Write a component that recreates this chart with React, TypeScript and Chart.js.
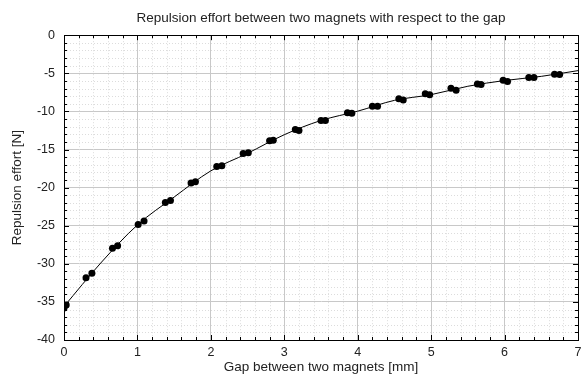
import React, { useEffect, useRef } from "react";
import { Chart, registerables } from "chart.js";

Chart.register(...registerables);

// Measured points (gap in mm, repulsion effort in N)
const gapMm = [
  0, 0.03, 0.3, 0.38, 0.66, 0.73, 1.01, 1.09, 1.38, 1.45, 1.73, 1.79, 2.08, 2.15,
  2.44, 2.51, 2.8, 2.85, 3.15, 3.2, 3.5, 3.56, 3.86, 3.92, 4.2, 4.27, 4.56, 4.62,
  4.92, 4.98, 5.27, 5.34, 5.63, 5.68, 5.98, 6.04, 6.33, 6.4, 6.68, 6.75,
];
const effortN = [
  -35.8, -35.4, -31.83, -31.25, -27.97, -27.63, -24.83, -24.39, -21.94, -21.68,
  -19.41, -19.24, -17.22, -17.14, -15.51, -15.44, -13.86, -13.77, -12.37, -12.5,
  -11.19, -11.19, -10.19, -10.23, -9.31, -9.31, -8.35, -8.52, -7.7, -7.83, -6.95,
  -7.21, -6.39, -6.47, -5.9, -6.07, -5.55, -5.55, -5.11, -5.15,
];

// Fitted curve
const curveGapMm = [0, 0.5, 1, 1.5, 2, 2.5, 3, 3.5, 4, 4.5, 5, 5.5, 6, 6.5, 7];
const curveEffortN = [
  -35.6, -29.9, -24.9, -21.24, -17.8, -15.5, -13.06, -11.19, -9.97, -8.55, -7.8,
  -6.7, -5.95, -5.4, -4.65,
];

const titleText = "Repulsion effort between two magnets with respect to the gap";
const xTitle = "Gap between two magnets [mm]";
const yTitle = "Repulsion effort [N]";

const FONT = "'Liberation Sans', Arial, Helvetica, sans-serif";

const frameGridPlugin = {
  id: "frameGrid",
  beforeDatasetsDraw(chart: any) {
    const { ctx, chartArea, scales } = chart;
    const { left, right, top, bottom } = chartArea;
    const x = scales.x;
    const y = scales.y;
    ctx.save();
    ctx.strokeStyle = "#dcdcdc";
    ctx.lineWidth = 1;
    ctx.setLineDash([1, 2]);
    for (let i = 1; i < 35; i++) {
      if (i % 5 === 0) continue;
      const px = Math.round(x.getPixelForValue(i * 0.2)) + 0.5;
      ctx.beginPath();
      ctx.moveTo(px, top);
      ctx.lineTo(px, bottom);
      ctx.stroke();
    }
    for (let v = -39; v < 0; v++) {
      if (v % 5 === 0) continue;
      const py = Math.round(y.getPixelForValue(v)) + 0.5;
      ctx.beginPath();
      ctx.moveTo(left, py);
      ctx.lineTo(right, py);
      ctx.stroke();
    }
    ctx.restore();
  },
  afterDatasetsDraw(chart: any) {
    const { ctx, chartArea, scales } = chart;
    const { left, right, top, bottom } = chartArea;
    const x = scales.x;
    const y = scales.y;
    ctx.save();
    ctx.strokeStyle = "#000";
    ctx.lineWidth = 1;
    ctx.setLineDash([]);
    ctx.beginPath();
    for (let i = 0; i <= 35; i++) {
      const len = i % 5 === 0 ? 5 : 3;
      const px = Math.round(x.getPixelForValue(i * 0.2)) + 0.5;
      ctx.moveTo(px, bottom);
      ctx.lineTo(px, bottom - len);
      ctx.moveTo(px, top);
      ctx.lineTo(px, top + len);
    }
    for (let v = -40; v <= 0; v++) {
      const len = v % 5 === 0 ? 5 : 3;
      const py = Math.round(y.getPixelForValue(v)) + 0.5;
      ctx.moveTo(left, py);
      ctx.lineTo(left + len, py);
      ctx.moveTo(right, py);
      ctx.lineTo(right - len, py);
    }
    ctx.stroke();
    ctx.strokeRect(
      Math.round(left) + 0.5,
      Math.round(top) + 0.5,
      Math.round(right - left),
      Math.round(bottom - top)
    );
    ctx.restore();
  },
};

export default function App() {
  const ref = useRef<HTMLCanvasElement | null>(null);

  useEffect(() => {
    if (!ref.current) return;
    const chart = new Chart(ref.current, {
      type: "scatter",
      data: {
        datasets: [
          {
            type: "line",
            label: "fit",
            data: curveGapMm.map((g, i) => ({ x: g, y: curveEffortN[i] })),
            borderColor: "#000",
            borderWidth: 1,
            pointRadius: 0,
            cubicInterpolationMode: "monotone",
            fill: false,
          } as any,
          {
            label: "measures",
            data: gapMm.map((g, i) => ({ x: g, y: effortN[i] })),
            backgroundColor: "#000",
            borderColor: "#000",
            pointRadius: 3.5,
            pointBorderWidth: 0,
          },
        ],
      },
      options: {
        animation: false,
        responsive: true,
        maintainAspectRatio: false,
        layout: { padding: { left: 0, right: 3, top: 0, bottom: 0 } },
        plugins: {
          legend: { display: false },
          tooltip: { enabled: false },
          title: {
            display: true,
            text: titleText,
            fullSize: false,
            color: "#222",
            font: { family: FONT, size: 13.5, weight: "normal" },
            padding: { top: 10, bottom: 9 },
          },
        },
        scales: {
          x: {
            type: "linear",
            min: 0,
            max: 7,
            ticks: {
              stepSize: 1,
              color: "#222",
              padding: 5,
              font: { family: FONT, size: 12.5 },
            },
            grid: { color: "#c8c8c8", drawTicks: false, lineWidth: 1 },
            border: { display: true, color: "#000" },
            title: {
              display: true,
              text: xTitle,
              color: "#222",
              font: { family: FONT, size: 13.5 },
              padding: { top: 2, bottom: 1.5 },
            },
            afterFit(scale: any) {
              scale.height = 37;
              scale.paddingRight = 0;
            },
          },
          y: {
            type: "linear",
            min: -40,
            max: 0,
            ticks: {
              stepSize: 5,
              color: "#222",
              padding: 9,
              font: { family: FONT, size: 12.5 },
            },
            grid: { color: "#c8c8c8", drawTicks: false, lineWidth: 1 },
            border: { display: true, color: "#000" },
            title: {
              display: true,
              text: yTitle,
              color: "#222",
              font: { family: FONT, size: 13.5 },
              padding: { top: 9, bottom: 0 },
            },
            afterFit(scale: any) {
              scale.width = 64;
            },
          },
        },
      },
      plugins: [frameGridPlugin],
    });
    return () => chart.destroy();
  }, []);

  return (
    <div
      style={{
        position: "absolute",
        left: 0,
        top: 0,
        width: 582,
        height: 377,
        background: "#fff",
      }}
    >
      <canvas ref={ref} />
    </div>
  );
}
